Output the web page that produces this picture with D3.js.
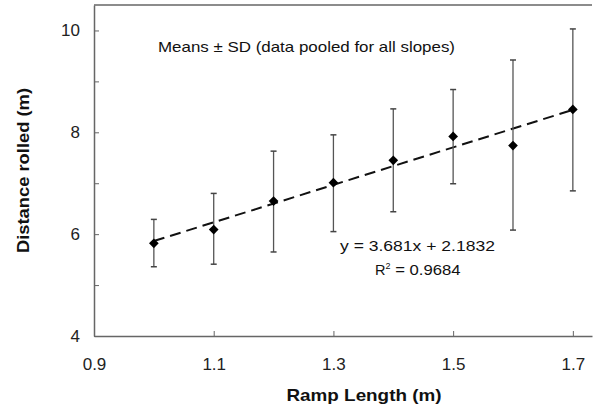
<!DOCTYPE html>
<html>
<head>
<meta charset="utf-8">
<script src="https://cdn.jsdelivr.net/npm/d3@7"></script>
<style>
  body { margin: 0; background: #fff; }
  text { font-family: Arial, "Liberation Sans", sans-serif; fill: #111; }
</style>
</head>
<body>
<div id="chart"></div>
<script>
// Ramp length (m) and pooled distance rolled (m)
const rampLengths = [1.0, 1.1, 1.2, 1.3, 1.4, 1.5, 1.6, 1.7];
const means = [5.82, 6.09, 6.65, 7.01, 7.45, 7.92, 7.74, 8.45];
const upper = [6.29, 6.80, 7.63, 7.95, 8.46, 8.84, 9.42, 10.03];
const lower = [5.36, 5.41, 5.65, 6.05, 6.44, 6.99, 6.08, 6.85];
const xTicks = [0.9, 1.1, 1.3, 1.5, 1.7];
const yTicks = [4, 5, 6, 7, 8, 9, 10];
const yLabels = [4, 6, 8, 10];
const slope = 3.681, intercept = 2.1832;

const totalWidth = 595, totalHeight = 406;
const margin = { top: 5, right: 3, bottom: 70, left: 94 };
const width = totalWidth - margin.left - margin.right;
const height = totalHeight - margin.top - margin.bottom;

const svg = d3.select("#chart")
    .append("svg")
    .attr("width", totalWidth)
    .attr("height", totalHeight)
    .append("g")
    .attr("transform", `translate(${margin.left},${margin.top})`);

const xScale = d3.scaleLinear().domain([0.9, 1.732]).range([0, width]);
const yScale = d3.scaleLinear().domain([4, 10.5]).range([height, 0]);

const axisColor = "#666";

// Top frame line
svg.append("line")
    .attr("x1", 0).attr("x2", width)
    .attr("y1", 0).attr("y2", 0)
    .style("stroke", axisColor)
    .style("stroke-width", 1.5);

// X axis (ticks point inward)
const xAxis = svg.append("g")
    .attr("transform", `translate(0,${height})`)
    .call(d3.axisBottom(xScale).tickValues(xTicks).tickSize(-5).tickSizeOuter(0).tickFormat(d3.format(".1f")));
xAxis.select(".domain").style("stroke", axisColor).style("stroke-width", 1.5);
xAxis.selectAll(".tick line").style("stroke", axisColor);
xAxis.selectAll(".tick text")
    .attr("y", 22)
    .style("font-size", "17px")
    .style("fill", "#222");

// Y axis (ticks point inward)
const yAxis = svg.append("g")
    .call(d3.axisLeft(yScale).tickValues(yTicks).tickSize(-5).tickSizeOuter(0)
        .tickFormat(d => yLabels.includes(d) ? d : ""));
yAxis.select(".domain").style("stroke", axisColor).style("stroke-width", 1.5);
yAxis.selectAll(".tick line").style("stroke", axisColor);
yAxis.selectAll(".tick text")
    .attr("x", -14)
    .style("font-size", "17px")
    .style("fill", "#222");

// Axis titles
svg.append("text")
    .attr("x", 270)
    .attr("y", height + 65)
    .attr("text-anchor", "middle")
    .attr("textLength", 155)
    .attr("lengthAdjust", "spacingAndGlyphs")
    .style("font-size", "17px")
    .style("font-weight", "bold")
    .text("Ramp Length (m)");

svg.append("text")
    .attr("transform", "rotate(-90)")
    .attr("x", -165.5)
    .attr("y", -65)
    .attr("text-anchor", "middle")
    .attr("textLength", 165)
    .attr("lengthAdjust", "spacingAndGlyphs")
    .style("font-size", "16.5px")
    .style("font-weight", "bold")
    .text("Distance rolled (m)");

// Trend line
const xMin = d3.min(rampLengths), xMax = d3.max(rampLengths);
svg.append("line")
    .attr("x1", xScale(xMin)).attr("y1", yScale(slope * xMin + intercept))
    .attr("x2", xScale(xMax)).attr("y2", yScale(slope * xMax + intercept))
    .style("stroke", "#111")
    .style("stroke-width", 2)
    .style("stroke-dasharray", "11,6");

const points = rampLengths.map((x, i) => ({ x, mean: means[i], hi: upper[i], lo: lower[i] }));

// Error bars
const capW = 3;
const bars = svg.append("g").selectAll("g").data(points).join("g");
bars.append("line")
    .attr("x1", d => xScale(d.x)).attr("x2", d => xScale(d.x))
    .attr("y1", d => yScale(d.hi)).attr("y2", d => yScale(d.lo))
    .style("stroke", "#555").style("stroke-width", 1.3);
bars.append("line")
    .attr("x1", d => xScale(d.x) - capW).attr("x2", d => xScale(d.x) + capW)
    .attr("y1", d => yScale(d.hi)).attr("y2", d => yScale(d.hi))
    .style("stroke", "#444").style("stroke-width", 1.5);
bars.append("line")
    .attr("x1", d => xScale(d.x) - capW).attr("x2", d => xScale(d.x) + capW)
    .attr("y1", d => yScale(d.lo)).attr("y2", d => yScale(d.lo))
    .style("stroke", "#444").style("stroke-width", 1.5);

// Diamond markers
svg.append("g").selectAll("path").data(points).join("path")
    .attr("transform", d => `translate(${xScale(d.x)},${yScale(d.mean)})`)
    .attr("d", d3.symbol(d3.symbolDiamond2, 60))
    .style("fill", "#000");

// Annotations
svg.append("text")
    .attr("x", 64)
    .attr("y", 47)
    .attr("textLength", 297)
    .attr("lengthAdjust", "spacingAndGlyphs")
    .style("font-size", "14.5px")
    .text("Means \u00b1 SD (data pooled for all slopes)");

svg.append("text")
    .attr("x", 246)
    .attr("y", 246)
    .attr("textLength", 155)
    .attr("lengthAdjust", "spacingAndGlyphs")
    .style("font-size", "14px")
    .text("y = 3.681x + 2.1832");

const r2 = svg.append("text")
    .attr("x", 281)
    .attr("y", 270)
    .style("font-size", "14.5px");
r2.append("tspan").text("R");
r2.append("tspan").attr("dy", -6).style("font-size", "9px").text("2");
r2.append("tspan").attr("dy", 6).attr("textLength", 70).attr("lengthAdjust", "spacingAndGlyphs").text(" = 0.9684");
</script>
</body>
</html>
